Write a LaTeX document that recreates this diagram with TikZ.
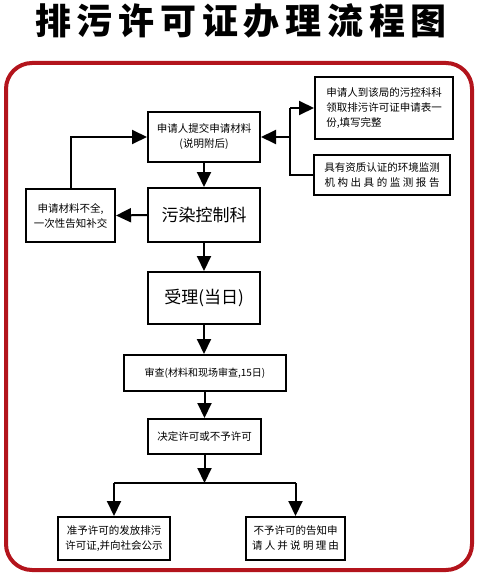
\documentclass[tikz,border=0pt]{standalone}
\usepackage{fontspec}
\newfontfamily\cjk{Noto Sans CJK SC}
\usetikzlibrary{arrows.meta,calc}
\definecolor{framered}{HTML}{B3141C}
\tikzset{
  box/.style={draw, line width=2pt, inner sep=0pt, align=center, font=\cjk\fontsize{10.5}{15}\selectfont},
  big/.style={font=\cjk\fontsize{17}{20}\selectfont},
  conn/.style={line width=2pt},
  arr/.style={line width=2pt, -{Triangle[length=15pt,width=14pt]}},
}
\newcommand{\spread}[2]{\makebox[#1][s]{#2}}
\newcommand{\hf}{\hfill}
\begin{document}
\begin{tikzpicture}[x=1pt,y=-1pt]
\useasboundingbox (0,0) rectangle (480,580);
\node[font=\cjk\bfseries\fontsize{36}{40}\selectfont] (title) at (241,21)
  {\spread{412pt}{排\hf 污\hf 许\hf 可\hf 证\hf 办\hf 理\hf 流\hf 程\hf 图}};
\draw[framered, line width=4pt, rounded corners=26pt] (6,63) rectangle (472,570);

\node[box, minimum width=112pt, minimum height=50pt] (b1) at (204,137) {申请人提交申请材料\\(说明附后)};
\node[box, minimum width=138pt, minimum height=62pt, align=left] (rt) at (384,108)
  {申请人到该局的污控科科\\领取排污许可证申请表一\\份,填写完整};
\node[box, minimum width=136pt, minimum height=40pt] (rb) at (382,175)
  {具有资质认证的环境监测\\\spread{115pt}{机\hf 构\hf 出\hf 具\hf 的\hf 监\hf 测\hf 报\hf 告}};
\node[box, minimum width=89pt, minimum height=53pt] (lb) at (70.5,215.5)
  {申请材料不全,\\一次性告知补交};
\node[box, big, minimum width=112pt, minimum height=54pt] (kz) at (204,215) {污染控制科};
\node[box, big, minimum width=112pt, minimum height=52pt] (sl) at (204,298) {受理(当日)};
\node[box, font=\cjk\fontsize{10}{12}\selectfont, minimum width=162pt, minimum height=36pt] (sc) at (205,373) {审查(材料和现场审查,15日)};
\node[box, minimum width=113pt, minimum height=35pt] (jd) at (204.5,436.5) {决定许可或不予许可};
\node[box, minimum width=112pt, minimum height=43pt] (bl) at (114,538.5)
  {准予许可的发放排污\\许可证,并向社会公示};
\node[box, minimum width=99pt, minimum height=43pt] (br) at (295.5,538.5)
  {不予许可的告知申\\\spread{87pt}{请\hf 人\hf 并\hf 说\hf 明\hf 理\hf 由}};

\draw[arr] (b1.south) -- (kz.north);
\draw[arr] (kz.south) -- (sl.north);
\draw[arr] (sl.south) -- (sc.north -| sl.south);
\draw[arr] (sc.south -| jd.north) -- (jd.north);
\coordinate (split) at ($(jd.south)+(0,28)$);
\draw[arr] (jd.south) -- (split);
\draw[conn] (bl.north |- split) -- (br.north |- split);
\draw[arr] (bl.north |- split) -- (bl.north);
\draw[arr] (br.north |- split) -- (br.north);
\draw[arr] (kz.west) -- (lb.east);
\draw[arr] (lb.north) -- (lb.north |- b1.west) -- (b1.west);
\coordinate (J) at (290,137);
\draw[arr] (J) -- (b1.east);
\draw[conn] (J |- rt.west) -- (J |- rb.west) -- (rb.west);
\draw[arr] (J |- rt.west) -- (rt.west);
\end{tikzpicture}
\end{document}
